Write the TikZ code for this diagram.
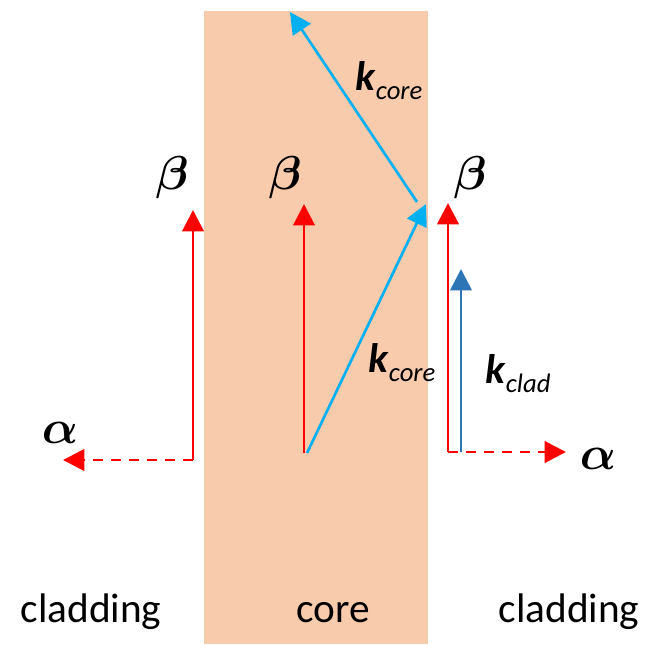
\documentclass[tikz,border=0pt]{standalone}
\usepackage{graphicx}
\usepackage{fontspec}
\setmainfont{Carlito}
\usetikzlibrary{arrows.meta}
\definecolor{corefill}{HTML}{F8CBAD}
\definecolor{vred}{HTML}{FF0000}
\definecolor{lblue}{HTML}{00B0F0}
\definecolor{dblue}{HTML}{2E75B6}
\newcommand{\kvec}[1]{\fontsize{31}{36}\selectfont\textbf{\textit{k}}\raisebox{-7pt}{\fontsize{20}{24}\selectfont\textit{#1}}}
\newcommand{\bigsym}[1]{\scalebox{1.72}{\fontsize{20.74}{24}\selectfont\boldmath$#1$}}
\tikzset{
  redarrow/.style={draw=vred, line width=2.2pt, -{Triangle[length=16pt,width=16pt]}},
  reddash/.style={redarrow, dash pattern=on 7.5pt off 6pt},
  lbarrow/.style={draw=lblue, line width=2pt, -{Triangle[length=16pt,width=16pt]}},
  dbarrow/.style={draw=dblue, line width=2pt, -{Triangle[length=16pt,width=16pt]}},
  greek/.style={inner sep=0pt},
  region/.style={inner sep=0pt, anchor=base, font=\fontsize{31}{36}\selectfont},
  klabel/.style={inner sep=0pt, anchor=base west}
}
\begin{document}
\begin{tikzpicture}[x=0.75pt,y=-0.75pt]
\useasboundingbox (0,0) rectangle (653,644);
\fill[corefill] (204,11) rectangle (428,644);

% coordinates
\coordinate (L0) at (193,460);
\coordinate (Ltop) at (193,210);
\coordinate (Lalpha) at (63,460);
\coordinate (M0) at (304,453);
\coordinate (Mtop) at (304,204);
\coordinate (K0) at (307,453);
\coordinate (K1) at (426,204);
\coordinate (K2) at (417,202);
\coordinate (K3) at (290,12);
\coordinate (R0) at (448,452);
\coordinate (Rtop) at (448,203);
\coordinate (Ralpha) at (566,452);
\coordinate (C0) at (461,452);
\coordinate (Ctop) at (461,269);

% arrows
\draw[redarrow] (L0) -- (Ltop);
\draw[reddash] (L0) -- (Lalpha);
\draw[redarrow] (M0) -- (Mtop);
\draw[lbarrow] (K0) -- (K1);
\draw[lbarrow] (K2) -- (K3);
\draw[redarrow] (R0) -- (Rtop);
\draw[reddash] (R0) -- (Ralpha);
\draw[dbarrow] (C0) -- (Ctop);

% labels
\node[greek] (b1) at (172,178) {\bigsym{\beta}};
\node[greek] (b2) at (285,178) {\bigsym{\beta}};
\node[greek] (b3) at (470,178) {\bigsym{\beta}};
\node[greek] (a1) at (60,433) {\bigsym{\alpha}};
\node[greek] (a2) at (598,459) {\bigsym{\alpha}};
\node[klabel] (kc1) at (355,90) {\kvec{core}};
\node[klabel] (kc2) at (368,372) {\kvec{core}};
\node[klabel] (kcl) at (485,383) {\kvec{clad}};
\node[region] (cl1) at (91,622) {cladding};
\node[region] (co) at (333,622) {core};
\node[region] (cl2) at (569,622) {cladding};
\end{tikzpicture}
\end{document}
